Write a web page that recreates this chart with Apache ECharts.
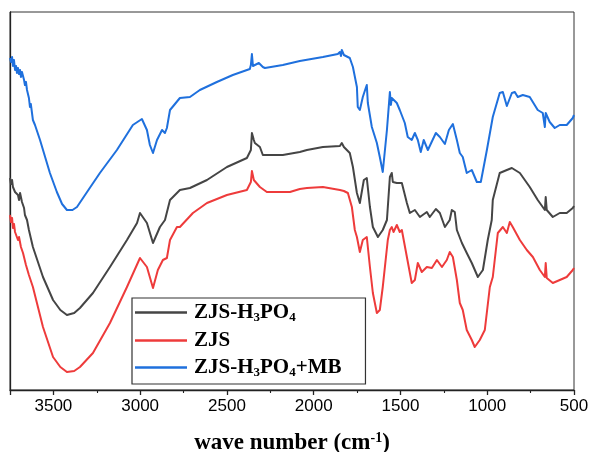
<!DOCTYPE html>
<html>
<head>
<meta charset="utf-8">
<script src="https://cdn.jsdelivr.net/npm/echarts@6/dist/echarts.min.js"></script>
<style>
  html, body { margin: 0; padding: 0; background: #fff; }
  #chart { width: 592px; height: 452px; }
</style>
</head>
<body>
<div id="chart"></div>
<script>
// FTIR spectra, transmittance in arbitrary (offset) units
const seriesNames = ['ZJS-H3PO4', 'ZJS', 'ZJS-H3PO4+MB'];
const xTicks = [500, 1000, 1500, 2000, 2500, 3000, 3500];

// ZJS-H3PO4 (black)
const wnActivated = [3750,3744,3738,3733,3727,3721,3715,3704,3698,3692,3681,3669,3664,3652,3641,3618,3560,3502,3460,3422,3380,3347,3272,3174,3076,3018,3001,2961,2926,2886,2857,2828,2771,2713,2615,2500,2385,2362,2356,2345,2339,2310,2293,2178,2080,2039,1947,1849,1838,1826,1792,1774,1751,1734,1711,1694,1676,1659,1648,1630,1602,1578,1561,1550,1544,1521,1492,1463,1446,1417,1388,1348,1331,1296,1273,1244,1216,1204,1187,1175,1146,1118,1089,1054,1025,997,974,968,928,887,858,812,755,709,668,663,657,622,582,542,507,500];
const tActivated = [212,206,210,203,205,198,200,195,190,197,188,182,175,170,160,143,113,90,80,75,77,82,97,123,150,167,177,167,147,163,170,190,200,202,210,223,232,240,257,250,247,243,235,235,238,240,243,244,247,243,237,223,197,187,210,212,183,163,163,153,160,170,213,217,208,207,207,187,177,180,173,178,173,181,177,163,170,180,178,160,147,137,127,113,120,150,170,190,217,220,222,217,203,190,180,193,180,173,177,177,182,184];

// ZJS (red)
const wnRaw = [3750,3744,3738,3733,3727,3721,3715,3704,3698,3687,3675,3658,3641,3618,3560,3502,3460,3422,3380,3347,3272,3174,3076,3001,2961,2926,2898,2869,2846,2828,2788,2771,2696,2615,2500,2385,2362,2356,2345,2339,2310,2270,2137,2080,2039,1947,1849,1826,1803,1780,1763,1751,1734,1717,1694,1676,1659,1636,1619,1602,1573,1561,1550,1540,1521,1504,1492,1463,1435,1417,1400,1377,1348,1319,1290,1261,1233,1216,1198,1175,1158,1141,1118,1089,1072,1043,1014,985,968,939,910,887,870,853,812,772,737,697,668,663,657,651,622,582,542,507,500];
const tRaw = [175,168,172,162,166,158,160,150,153,143,137,125,115,103,63,33,23,18,19,23,37,67,103,132,123,102,120,130,132,150,163,163,177,187,195,200,208,219,210,208,203,198,198,201,202,203,200,199,197,183,160,153,138,150,153,123,97,77,80,103,150,160,163,158,165,158,160,133,107,110,127,118,123,122,130,123,130,138,133,110,87,80,60,50,43,50,60,103,113,157,163,157,168,163,150,140,133,120,113,127,112,110,107,110,113,120,122];

// ZJS-H3PO4 after methylene blue adsorption (blue)
const wnLoaded = [3750,3744,3738,3733,3727,3721,3715,3710,3704,3698,3692,3687,3681,3675,3669,3664,3658,3652,3646,3641,3635,3630,3618,3606,3577,3520,3480,3450,3422,3390,3364,3306,3232,3134,3042,2990,2961,2944,2926,2903,2874,2857,2846,2828,2771,2713,2656,2558,2466,2368,2362,2356,2350,2339,2316,2293,2281,2178,2080,1947,1861,1849,1843,1838,1826,1815,1792,1774,1751,1746,1734,1717,1700,1694,1688,1665,1636,1619,1602,1578,1561,1555,1550,1544,1521,1504,1475,1458,1435,1417,1400,1383,1366,1342,1296,1273,1244,1221,1198,1175,1158,1141,1118,1089,1060,1037,1002,968,928,910,887,858,841,824,795,755,709,680,668,663,657,640,611,582,542,507,500];
const tLoaded = [332,328,333,324,330,320,324,317,322,316,320,313,318,320,310,305,308,300,302,292,283,286,270,265,250,217,198,186,180,180,183,198,217,240,265,271,260,245,237,250,260,257,262,280,292,293,300,308,315,321,325,336,324,322,327,323,322,325,329,333,336,338,334,340,335,337,332,323,303,283,280,293,302,305,287,263,247,233,218,260,298,285,292,290,287,280,267,253,250,257,250,238,250,240,257,253,246,260,266,250,237,233,217,220,208,208,240,273,297,298,284,297,298,293,295,293,280,277,263,277,277,268,262,265,265,272,275];

function pairs(wn, t) {
  return wn.map((w, i) => [w, t[i]]);
}

const colors = ['#454545', '#ee3b3b', '#1f70dd'];

const chart = echarts.init(document.getElementById('chart'), null, { renderer: 'canvas' });

const rich = {
  n: { fontFamily: 'Liberation Serif', fontWeight: 'bold', fontSize: 21, color: '#000' },
  s: { fontFamily: 'Liberation Serif', fontWeight: 'bold', fontSize: 13, color: '#000', padding: [10, 0, 0, 0] }
};

function legendLabel(name) {
  // chemical formula digits as subscripts
  return name.split(/(\d)/).filter(p => p !== '').map(p => /\d/.test(p) ? '{s|' + p + '}' : '{n|' + p + '}').join('');
}

function lineSeries(name, data, color) {
  return {
    name: name, type: 'line', data: data, symbol: 'none',
    lineStyle: { width: 2, color: color, join: 'round' }
  };
}

chart.setOption({
  animation: false,
  backgroundColor: '#fff',
  color: colors,
  grid: {
    left: 10, right: 18, top: 12, bottom: 62,
    containLabel: false, outerBoundsMode: 'none',
    show: true, borderColor: '#333', borderWidth: 1
  },
  legend: {
    data: seriesNames,
    orient: 'vertical',
    left: 132,
    top: 298,
    padding: [4, 24, 5, 3],
    itemGap: 6,
    itemWidth: 52,
    itemHeight: 2.5,
    icon: 'rect',
    borderColor: '#333',
    borderWidth: 1.2,
    formatter: legendLabel,
    textStyle: { rich: rich, padding: [0, 0, 0, 2] }
  },
  xAxis: {
    type: 'value',
    inverse: true,
    min: 500,
    max: 3750,
    interval: 500,
    name: 'wave number (cm{sup|-1})',
    nameLocation: 'middle',
    nameGap: 41,
    nameTextStyle: {
      fontFamily: 'Liberation Serif', fontWeight: 'bold', fontSize: 23, color: '#000',
      rich: {
        sup: { fontFamily: 'Liberation Serif', fontWeight: 'bold', fontSize: 14, color: '#000', padding: [0, 0, 10, 0] }
      }
    },
    axisLine: { lineStyle: { color: '#222', width: 1.3 } },
    axisTick: { inside: false, length: 5, lineStyle: { color: '#222', width: 1.3 } },
    minorTick: { show: true, splitNumber: 2, length: 3, lineStyle: { color: '#222', width: 1.1 } },
    splitLine: { show: false },
    axisLabel: {
      fontFamily: 'Liberation Sans', fontSize: 17, color: '#000', margin: 8,
      formatter: v => xTicks.includes(v) ? String(v) : ''
    }
  },
  yAxis: {
    type: 'value',
    min: 0,
    max: 378,
    axisLine: { show: true, lineStyle: { color: '#222', width: 1.3 } },
    axisTick: { show: false },
    axisLabel: { show: false },
    splitLine: { show: false }
  },
  series: [
    lineSeries(seriesNames[0], pairs(wnActivated, tActivated), colors[0]),
    lineSeries(seriesNames[1], pairs(wnRaw, tRaw), colors[1]),
    lineSeries(seriesNames[2], pairs(wnLoaded, tLoaded), colors[2])
  ]
});
</script>
</body>
</html>
